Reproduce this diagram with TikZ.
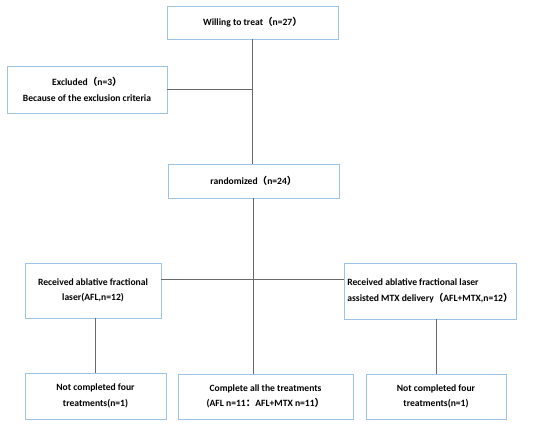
\documentclass[tikz,border=0pt]{standalone}
\usepackage{fontspec}
\setmainfont{Carlito}
\newfontfamily\cjk{Noto Sans CJK SC}
\usetikzlibrary{positioning, calc}
\usepackage{xcolor}
\definecolor{boxblue}{RGB}{157, 195, 230}
\definecolor{linkgray}{RGB}{105, 105, 105}
\newcommand{\flp}{{\cjk （}}
\newcommand{\frp}{{\cjk ）}}
\newcommand{\fcolon}{{\cjk ：}}

\begin{document}
\begin{tikzpicture}[x=1pt, y=-1pt,
        box/.style={draw=boxblue, line width=0.9pt, fill=white,
              inner sep=0pt, align=center,
              font=\bfseries\fontsize{9.6}{15.5}\selectfont},
        link/.style={draw=linkgray, line width=0.9pt}]
        \useasboundingbox (0,0) rectangle (550,426);
        \node[box, minimum width=171, minimum height=33] (willing) at (252.5,22.5)
              {Willing to treat\flp n=27\frp};
        \node[box, minimum width=160, minimum height=47] (excl) at (87,89.5)
              {Excluded\flp n=3\frp\\Because of the exclusion criteria};
        \node[box, minimum width=171, minimum height=34] (rand) at (253.5,181)
              {randomized\flp n=24\frp};
        \node[box, minimum width=136, minimum height=55] (afl) at (93,290.5)
              {Received ablative fractional\\laser(AFL,n=12)};
        \node[box, minimum width=172, minimum height=56, align=left] (aflmtx) at (430,291)
              {Received ablative fractional laser\\assisted MTX delivery\flp AFL+MTX,n=12\frp};
        \node[box, minimum width=141, minimum height=46] (nc1) at (95.5,396)
              {Not completed four\\treatments(n=1)};
        \node[box, minimum width=175, minimum height=45] (all) at (265.5,396.5)
              {Complete all the treatments\\(AFL n=11\fcolon AFL+MTX n=11\frp};
        \node[box, minimum width=140, minimum height=45] (nc2) at (436,396.5)
              {Not completed four\\treatments(n=1)};
        % connectors
        \draw[link] (willing.south) -- (willing.south |- rand.north);
        \draw[link] (excl.east) -- (excl.east -| willing.south);
        \draw[link] (rand.south) -- (rand.south |- all.north);
        \draw[link] ([yshift=11.5pt]afl.east) -- ([yshift=12pt]aflmtx.west);
        \draw[link] (nc1.north |- afl.south) -- (nc1.north);
        \draw[link] (nc2.north |- aflmtx.south) -- (nc2.north);
      \end{tikzpicture}
\end{document}
